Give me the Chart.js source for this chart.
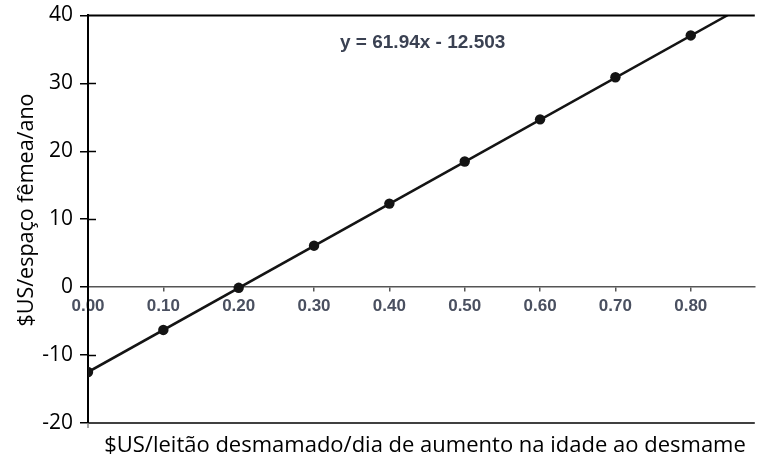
<!DOCTYPE html>
<html>
<head>
<meta charset="utf-8">
<script src="https://cdn.jsdelivr.net/npm/chart.js@4/dist/chart.umd.min.js"></script>
<style>
html,body{margin:0;padding:0;background:#fff;}
#wrap{width:760px;height:456px;position:relative;}
</style>
</head>
<body>
<div id="wrap"><canvas id="c" width="760" height="456"></canvas></div>
<script>
// Data
const xValues = [0.00, 0.10, 0.20, 0.30, 0.40, 0.50, 0.60, 0.70, 0.80];
const yValues = [-12.5, -6.3, -0.1, 6.1, 12.3, 18.5, 24.7, 30.9, 37.05];
const trendX = [0.00, 0.85];
const trendY = [-12.5, 40.1];
const xTicks = [0.00, 0.10, 0.20, 0.30, 0.40, 0.50, 0.60, 0.70, 0.80];
const yTicks = [-20, -10, 0, 10, 20, 30, 40];
const equationText = 'y = 61.94x - 12.503';
const xTitle = '$US/leitão desmamado/dia de aumento na idade ao desmame';
const yTitle = '$US/espaço fêmea/ano';

const points = xValues.map((x, i) => ({x: x, y: yValues[i]}));
const trend = trendX.map((x, i) => ({x: x, y: trendY[i]}));

const decor = {
  id: 'decor',
  afterDraw(chart) {
    const ctx = chart.ctx;
    const a = chart.chartArea;
    const ys = chart.scales.y;
    ctx.save();
    // top frame
    ctx.strokeStyle = '#000';
    ctx.lineWidth = 2;
    ctx.beginPath(); ctx.moveTo(a.left - 1, a.top); ctx.lineTo(a.right, a.top); ctx.stroke();
    // bottom frame
    ctx.lineWidth = 1.5;
    ctx.beginPath(); ctx.moveTo(a.left, a.bottom); ctx.lineTo(a.right, a.bottom); ctx.stroke();
    // inward tick halves on y axis
    ctx.lineWidth = 1.5;
    yTicks.forEach(v => {
      if (v === yTicks[0] || v === yTicks[yTicks.length - 1] || v === 0) return;
      const py = Math.round(ys.getPixelForValue(v)) + 0.5;
      ctx.beginPath(); ctx.moveTo(a.left, py); ctx.lineTo(a.left + 8, py); ctx.stroke();
    });
    // small grey extension below axis
    ctx.strokeStyle = '#888';
    ctx.beginPath(); ctx.moveTo(a.left, a.bottom); ctx.lineTo(a.left, a.bottom + 5); ctx.stroke();
    // equation
    ctx.fillStyle = '#3a4152';
    ctx.font = 'bold 19px "Liberation Sans Narrow", "Liberation Sans", sans-serif';
    ctx.textAlign = 'left';
    ctx.textBaseline = 'middle';
    ctx.fillText(equationText, 340, 43);
    // x title
    ctx.fillStyle = '#000';
    ctx.font = '22px "Open Sans", sans-serif';
    ctx.textAlign = 'center';
    ctx.textBaseline = 'alphabetic';
    ctx.fillText(xTitle, 425, 452);
    // y title
    ctx.font = '21.5px "Open Sans", sans-serif';
    ctx.translate(33, 210);
    ctx.rotate(-Math.PI / 2);
    ctx.fillText(yTitle, 0, 0);
    ctx.restore();
  }
};

new Chart(document.getElementById('c'), {
  type: 'scatter',
  data: {
    datasets: [
      {
        data: trend,
        showLine: true,
        borderColor: '#141414',
        borderWidth: 2.5,
        pointRadius: 0,
        pointHoverRadius: 0
      },
      {
        data: points,
        showLine: false,
        pointRadius: 5.2,
        pointBackgroundColor: '#141414',
        pointBorderColor: '#141414',
        pointBorderWidth: 0
      }
    ]
  },
  options: {
    responsive: false,
    animation: false,
    events: [],
    layout: { padding: { left: 0, right: 0, top: 12, bottom: 33 } },
    plugins: { legend: { display: false }, tooltip: { enabled: false }, title: { display: false } },
    scales: {
      x: {
        type: 'linear',
        min: 0,
        max: 0.885,
        position: { y: 0 },
        afterBuildTicks: s => { s.ticks = xTicks.map(v => ({value: v})); },
        grid: { drawOnChartArea: false, drawTicks: true, tickLength: 4, color: '#555', lineWidth: 1.5 },
        border: { display: true, color: '#555', width: 1.5 },
        ticks: {
          autoSkip: false,
          maxRotation: 0,
          padding: 5,
          color: '#4a5060',
          font: { family: '"Liberation Sans Narrow", "Liberation Sans", sans-serif', size: 17, weight: 'bold' },
          callback: v => Number(v).toFixed(2)
        }
      },
      y: {
        type: 'linear',
        min: -20,
        max: 40,
        position: 'left',
        afterBuildTicks: s => { s.ticks = yTicks.map(v => ({value: v})); },
        afterFit: s => { s.width = 88; },
        grid: { drawOnChartArea: false, drawTicks: true, tickLength: 8, color: '#000', lineWidth: 1.5 },
        border: { display: true, color: '#000', width: 2 },
        ticks: {
          padding: 7,
          color: '#000',
          font: { family: '"Open Sans", sans-serif', size: 21, lineHeight: 0.8 },
          callback: v => String(v)
        }
      }
    }
  },
  plugins: [decor]
});
</script>
</body>
</html>
